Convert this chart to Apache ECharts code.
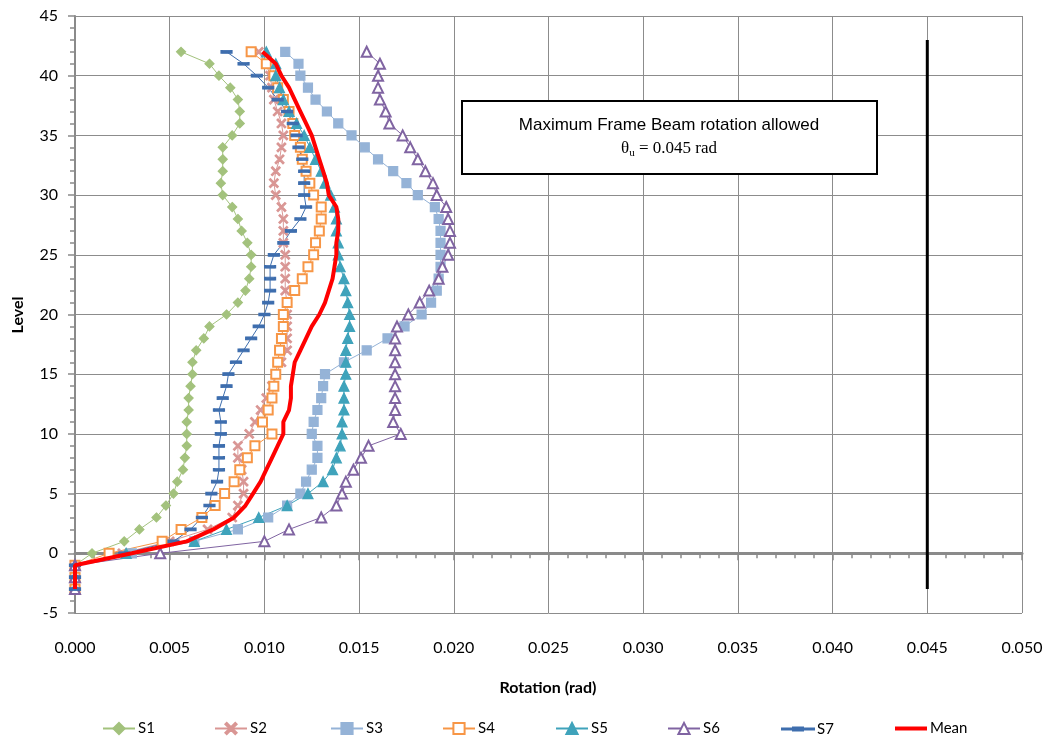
<!DOCTYPE html>
<html><head><meta charset="utf-8">
<script src="https://cdn.jsdelivr.net/npm/echarts@6/dist/echarts.min.js"></script>
<style>html,body{margin:0;padding:0;background:#fff}#c{width:1052px;height:740px}</style>
</head><body><div id="c"></div>
<script>
const levels = [-3,-2,-1,0,1,2,3,4,5,6,7,8,9,10,11,12,13,14,15,16,17,18,19,20,21,22,23,24,25,26,27,28,29,30,31,32,33,34,35,36,37,38,39,40,41,42];
const S1 = [0,0,0,0.0009,0.0026,0.0034,0.0043,0.0048,0.0052,0.0054,0.0057,0.0058,0.0059,0.0059,0.0059,0.0060,0.0060,0.0061,0.0062,0.0062,0.0064,0.0068,0.0071,0.0080,0.0086,0.0090,0.0092,0.0093,0.0093,0.0091,0.0088,0.0086,0.0083,0.0078,0.0077,0.0078,0.0078,0.0078,0.0083,0.0087,0.0087,0.0086,0.0082,0.0076,0.0071,0.0056];
const S2 = [0,0,0,0.0025,0.0050,0.0070,0.0083,0.0086,0.0089,0.0089,0.0088,0.0086,0.0086,0.0092,0.0095,0.0098,0.0101,0.0104,0.0106,0.0109,0.0112,0.0112,0.0112,0.0112,0.0112,0.0111,0.0111,0.0111,0.0111,0.0110,0.0110,0.0110,0.0109,0.0106,0.0105,0.0106,0.0108,0.0109,0.0110,0.0109,0.0107,0.0105,0.0104,0.0103,0.0101,0.0097];
const S3 = [0,0,0,0.0030,0.0063,0.0086,0.0102,0.0112,0.0119,0.0122,0.0125,0.0128,0.0128,0.0125,0.0126,0.0128,0.0130,0.0131,0.0132,0.0142,0.0154,0.0165,0.0174,0.0183,0.0188,0.0191,0.0192,0.0193,0.0193,0.0193,0.0193,0.0192,0.0190,0.0181,0.0175,0.0168,0.0160,0.0153,0.0146,0.0139,0.0133,0.0127,0.0123,0.0119,0.0118,0.0111];
const S4 = [0,0,0,0.0018,0.0046,0.0056,0.0067,0.0074,0.0079,0.0084,0.0087,0.0091,0.0095,0.0104,0.0099,0.0102,0.0104,0.0105,0.0106,0.0107,0.0108,0.0109,0.0110,0.0110,0.0112,0.0116,0.0120,0.0123,0.0126,0.0127,0.0129,0.0130,0.0130,0.0126,0.0124,0.0122,0.0120,0.0119,0.0116,0.0115,0.0113,0.0110,0.0107,0.0105,0.0101,0.0093];
const S5 = [0,0,0,0.0027,0.0063,0.0080,0.0097,0.0112,0.0123,0.0131,0.0136,0.0138,0.0140,0.0141,0.0141,0.0142,0.0142,0.0142,0.0143,0.0143,0.0143,0.0144,0.0145,0.0145,0.0144,0.0143,0.0142,0.0140,0.0139,0.0139,0.0138,0.0138,0.0137,0.0135,0.0132,0.0130,0.0127,0.0124,0.0121,0.0117,0.0113,0.0110,0.0108,0.0106,0.0106,0.0101];
const S6 = [0,0,0,0.0045,0.0100,0.0113,0.0130,0.0138,0.0141,0.0143,0.0147,0.0151,0.0155,0.0172,0.0168,0.0169,0.0169,0.0169,0.0169,0.0169,0.0169,0.0169,0.0170,0.0176,0.0182,0.0187,0.0192,0.0194,0.0197,0.0198,0.0198,0.0197,0.0196,0.0191,0.0189,0.0185,0.0181,0.0177,0.0173,0.0166,0.0164,0.0161,0.0160,0.0160,0.0161,0.0154];
const S7 = [0,0,0,0.0026,0.0052,0.0061,0.0067,0.0071,0.0072,0.0075,0.0076,0.0076,0.0076,0.0077,0.0077,0.0076,0.0078,0.0080,0.0081,0.0085,0.0089,0.0093,0.0097,0.0100,0.0102,0.0103,0.0103,0.0103,0.0105,0.0110,0.0114,0.0119,0.0122,0.0121,0.0121,0.0121,0.0120,0.0118,0.0117,0.0115,0.0112,0.0107,0.0102,0.0096,0.0089,0.0080];
const MEAN = [0,0,0,0.0030,0.0059,0.0073,0.0084,0.0090,0.0094,0.0098,0.0101,0.0104,0.0107,0.0110,0.0110,0.0113,0.0114,0.0114,0.0115,0.0116,0.0119,0.0122,0.0125,0.0129,0.0132,0.0134,0.0136,0.0137,0.0138,0.0138,0.0139,0.0139,0.0138,0.0134,0.0133,0.0131,0.0129,0.0127,0.0125,0.0122,0.0119,0.0116,0.0113,0.0109,0.0106,0.0099];
const LIMIT_X = [0.045, 0.045];
const LIMIT_Y = [-3, 43];
const names = ['S1','S2','S3','S4','S5','S6','S7','Mean'];

const FONT = 'Lato, "Open Sans", sans-serif';
const xPath = 'path://M0,1.2L1.2,0L5,3.8L8.8,0L10,1.2L6.2,5L10,8.8L8.8,10L5,6.2L1.2,10L0,8.8L3.8,5Z';
function pts(arr){ return levels.map((L,i)=>[arr[i], L]); }

const styles = [
  {d:S1, color:'#A3C27D', symbol:'diamond', size:9},
  {d:S2, color:'#D99694', symbol:xPath, size:9},
  {d:S3, color:'#95B3D7', symbol:'rect', size:9},
  {d:S4, color:'#F79646', symbol:'emptyRect', size:9},
  {d:S5, color:'#3FA3BB', symbol:'triangle', size:10},
  {d:S6, color:'#8064A2', symbol:'emptyTriangle', size:10},
  {d:S7, color:'#3E6EAE', symbol:'rect', size:[10,3]}
];
const series = styles.map((s,i)=>({
  name: names[i], type:'line', data: pts(s.d), symbol: s.symbol, symbolSize: s.size,
  showAllSymbol:true,
  lineStyle:{color:s.color, width:1}, itemStyle:{color:s.color, borderColor:s.color, borderWidth:1.2},
  emphasis:{disabled:true}, z:2
}));
series.push({name:'Mean', type:'line', data: pts(MEAN), symbol:'none', lineStyle:{color:'#FF0000', width:4}, itemStyle:{color:'#FF0000'}, emphasis:{disabled:true}, z:3});
series.push({name:'limit', type:'line', data: LIMIT_X.map((x,i)=>[x, LIMIT_Y[i]]), symbol:'none', lineStyle:{color:'#000', width:3}, emphasis:{disabled:true}, z:3});

const legendLeft = [97, 209, 325, 437, 550, 662, 776, 890];
const legends = names.map((n,i)=>{
  const lg = {
    data:[n], left: legendLeft[i], top: 716, itemWidth: 32, itemHeight: 14, itemGap: 0,
    textStyle:{fontFamily:FONT, fontSize:15, color:'#000', padding:[0,0,0,-2]},
    selectedMode:false
  };
  if (n === 'S7') lg.data = [{name:n, icon:'path://M0,0M32,14M0,6.5H32V7.5H0Z M11,5.5H21V8.5H11Z'}];
  if (n === 'Mean') lg.data = [{name:n, icon:'path://M0,0M32,14M0,5H32V9H0Z'}];
  return lg;
});

const chart = echarts.init(document.getElementById('c'), null, {renderer:'canvas'});
chart.setOption({
  animation:false,
  backgroundColor:'#fff',
  grid:{left:75, top:16, width:947, height:597, containLabel:false},
  legend: legends,
  xAxis:{type:'value', min:0, max:0.05, interval:0.005,
    axisLine:{show:true, onZero:true, lineStyle:{color:'#8a8a8a', width:3}},
    axisTick:{show:true, length:7, lineStyle:{color:'#8a8a8a', width:1.5}},
    minorTick:{show:true, splitNumber:5, length:5, lineStyle:{color:'#8a8a8a', width:1.5}},
    axisLabel:{margin:27, fontSize:16, color:'#000', fontFamily:FONT, formatter:v=>v.toFixed(3)},
    splitLine:{show:true, lineStyle:{color:'#8c8c8c', width:1}}
  },
  yAxis:{type:'value', min:-5, max:45, interval:5,
    axisLine:{show:true, onZero:false, lineStyle:{color:'#8a8a8a', width:2}},
    axisTick:{show:true, length:7, lineStyle:{color:'#8a8a8a', width:1.5}},
    minorTick:{show:true, splitNumber:5, length:5, lineStyle:{color:'#8a8a8a', width:1.5}},
    axisLabel:{margin:17, fontSize:16, color:'#000', fontFamily:FONT},
    splitLine:{show:true, lineStyle:{color:'#8c8c8c', width:1}}
  },
  series: series,
  graphic:[
    {type:'rect', shape:{x:462, y:101, width:415, height:73}, style:{fill:'#fff', stroke:'#000', lineWidth:2}, z:10},
    {type:'text', x:669, y:125, z:11, style:{text:'Maximum Frame Beam rotation allowed', font:'17px "Liberation Sans", Arial, sans-serif', fill:'#000', align:'center', verticalAlign:'middle'}},
    {type:'text', x:669, y:149, z:11, style:{text:'{a|θ}{s|u}{a| = 0.045 rad}', align:'center', verticalAlign:'middle',
      rich:{a:{font:'17px "Liberation Serif", "Times New Roman", serif', fill:'#000'}, s:{font:'11px "Liberation Serif", serif', fill:'#000', padding:[8,0,0,0]}}}},
    {type:'text', x:548, y:688, z:11, style:{text:'Rotation (rad)', font:'bold 16px ' + FONT, fill:'#000', align:'center', verticalAlign:'middle'}},
    {type:'text', x:18, y:315, rotation:Math.PI/2, z:11, style:{text:'Level', font:'bold 16px ' + FONT, fill:'#000', align:'center', verticalAlign:'middle'}}
  ]
});
</script></body></html>
